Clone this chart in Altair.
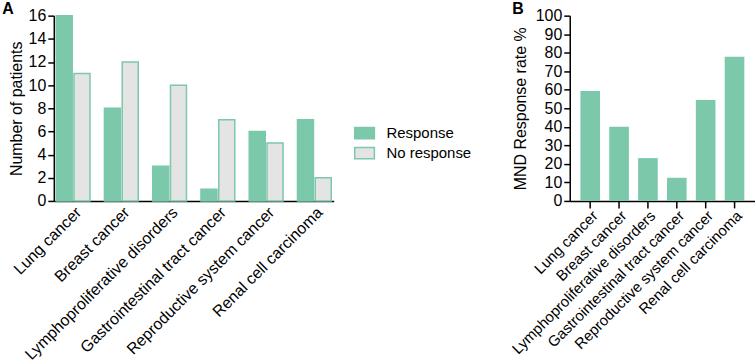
import altair as alt
import pandas as pd

categories = ["Lung cancer", "Breast cancer", "Lymphoproliferative disorders",
              "Gastrointestinal tract cancer", "Reproductive system cancer",
              "Renal cell carcinoma"]
response = [16, 8, 3, 1, 6, 7]
no_response = [11, 12, 10, 7, 5, 2]
rate_pct = [59.3, 40.0, 23.1, 12.5, 54.5, 77.8]
series = ["Response", "No response"]

GREEN = "#7bc8aa"
HATCH = "#e4e4e4"
FONT = "Liberation Sans"

rows = []
for c, r, n in zip(categories, response, no_response):
    rows.append({"cat": c, "series": "Response", "n": r})
    rows.append({"cat": c, "series": "No response", "n": n})
dfA = pd.DataFrame(rows)
dfB = pd.DataFrame({"cat": categories, "rate": rate_pct})

legend_kw = dict(title=None, orient="none", legendX=301, legendY=107,
                 symbolType="M-1,-0.57H1V0.57H-1Z", symbolSize=390,
                 symbolStrokeWidth=1.5, labelFontSize=15, labelOffset=11,
                 rowPadding=-6, labelFont=FONT, labelColor="black")

A = alt.Chart(dfA, title=alt.TitleParams("A", anchor="start", frame="bounds", dx=-6,
                                         fontSize=16, fontWeight="bold", offset=-9)).mark_bar(strokeWidth=1.5).encode(
    x=alt.X("cat:N", sort=categories,
            scale=alt.Scale(paddingInner=0.3, paddingOuter=0.05),
            axis=alt.Axis(title=None, labelAngle=-45, ticks=False, labelPadding=3,
                          labelLimit=400)),
    xOffset=alt.XOffset("series:N", sort=series, scale=alt.Scale(paddingInner=0.1)),
    y=alt.Y("n:Q", scale=alt.Scale(domain=[0, 16], nice=False),
            axis=alt.Axis(values=list(range(0, 17, 2)), title="Number of patients",
                          grid=False, tickSize=6, titlePadding=4)),
    fill=alt.Fill("series:N", sort=series,
                  scale=alt.Scale(domain=series, range=[GREEN, HATCH]),
                  legend=alt.Legend(**legend_kw)),
    stroke=alt.Stroke("series:N", sort=series,
                      scale=alt.Scale(domain=series, range=[GREEN, GREEN]),
                      legend=alt.Legend(**legend_kw)),
).properties(width=281, height=186)

B = alt.Chart(dfB, title=alt.TitleParams("B", anchor="start", frame="bounds", dx=3,
                                         fontSize=16, fontWeight="bold", offset=-9)).mark_bar(color=GREEN).encode(
    x=alt.X("cat:N", sort=categories,
            scale=alt.Scale(paddingInner=0.32, paddingOuter=0.37),
            axis=alt.Axis(title=None, labelAngle=-45, tickSize=7, labelPadding=0,
                          labelFontSize=15, labelLimit=400)),
    y=alt.Y("rate:Q", scale=alt.Scale(domain=[0, 100], nice=False),
            axis=alt.Axis(values=list(range(0, 101, 10)), title="MND Response rate %",
                          grid=False, tickSize=6, titlePadding=7)),
).properties(width=186, height=186)

chart = alt.hconcat(A, B, spacing=176).configure_axis(
    domainColor="black", domainWidth=1.5, tickColor="black", tickWidth=1.5,
    labelFont=FONT, labelFontSize=16, labelColor="black",
    titleFont=FONT, titleFontSize=16, titleFontWeight="normal", titleColor="black",
).configure_view(stroke=None).configure_title(font=FONT, color="black").properties(
    padding={"left": 2, "top": 0, "right": 0, "bottom": 0}
)

chart.save("out.html", embed_options={"renderer": "svg", "actions": False})
